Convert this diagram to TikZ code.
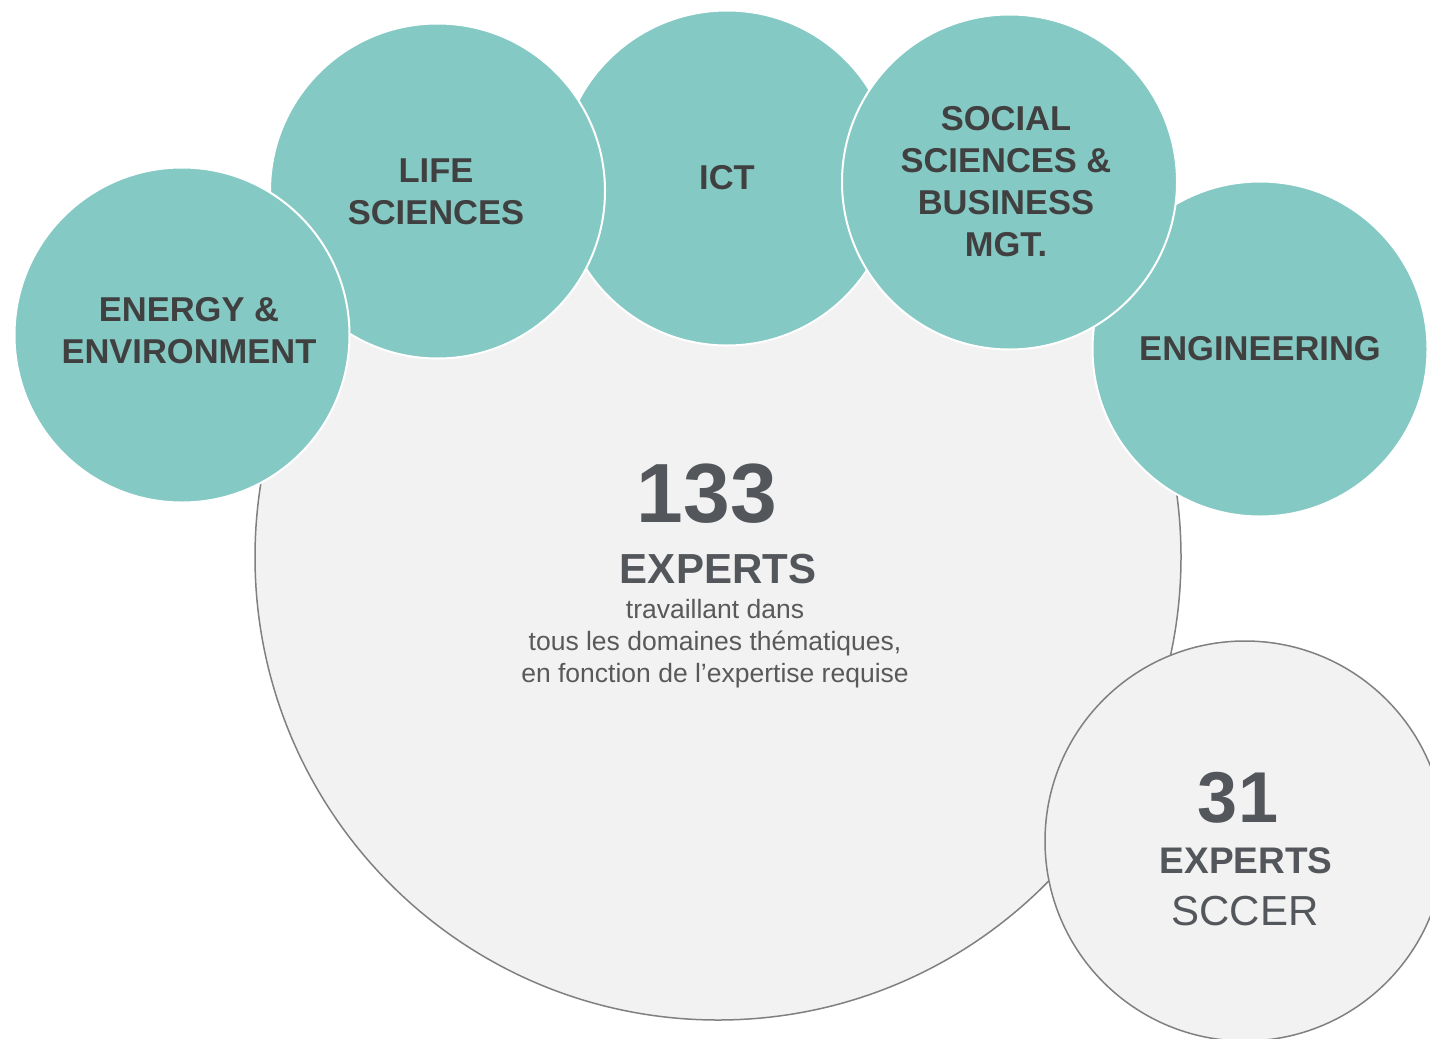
\documentclass[tikz,border=0pt]{standalone}
\usepackage{fontspec}
\setmainfont{Liberation Sans}
\definecolor{teal1}{HTML}{84C9C4}
\definecolor{lbl}{HTML}{404040}
\definecolor{num}{HTML}{53565A}
\definecolor{small}{HTML}{595959}
\definecolor{bgc}{HTML}{F2F2F2}
\definecolor{edge}{HTML}{808080}
\tikzset{
  domcirc/.style={circle, fill=teal1, draw=white, line width=2pt, inner sep=0pt,
    minimum size=335pt},
  domlbl/.style={align=center, text=lbl, font=\fontsize{34.5}{42}\selectfont\bfseries},
  poolcirc/.style={circle, fill=bgc, draw=edge, line width=1.5pt, inner sep=0pt},
  bignum/.style={anchor=base, text=num, font=\fontsize{84}{100}\selectfont\bfseries},
  expw/.style={anchor=base, text=num, font=\fontsize{42}{48}\selectfont\bfseries},
  smalltxt/.style={anchor=base, text=small, font=\fontsize{26.5}{30}\selectfont},
}
\begin{document}
\begin{tikzpicture}[x=1pt,y=-1pt]
\useasboundingbox (0,0) rectangle (1430,1039);
\node[poolcirc, minimum size=926pt] (big) at (718,557) {};
\node[poolcirc, minimum size=400pt] (sccer) at (1245,841) {};
\node[domcirc] (eng) at (1260,349) {};
\node[domlbl] (engl) at (1260,349) {ENGINEERING};
\node[domcirc] (ict) at (727,178) {};
\node[domlbl] (ictl) at (727,178) {ICT};
\node[domcirc] (soc) at (1009.5,182) {};
\node[domlbl] (socl) at (1006,182) {SOCIAL\\SCIENCES \&\\BUSINESS\\MGT.};
\node[domcirc] (life) at (437.5,191) {};
\node[domlbl] (lifel) at (436,192) {LIFE\\SCIENCES};
\node[domcirc] (ener) at (182,335) {};
\node[domlbl] (enerl) at (189,331) {ENERGY \&\\ENVIRONMENT};
\node[bignum] (n133) at (707,522) {133};
\node[expw] (e133) at (718,583) {EXPERTS};
\node[smalltxt] (t1) at (715,618) {travaillant dans};
\node[smalltxt] (t2) at (715,650) {tous les domaines thématiques,};
\node[smalltxt] (t3) at (715,682) {en fonction de l’expertise requise};
\node[anchor=base, text=num, font=\fontsize{72}{90}\selectfont\bfseries] (n31) at (1238,822) {31};
\node[anchor=base, text=num, font=\fontsize{37}{42}\selectfont\bfseries] (e31) at (1246,873) {EXPERTS};
\node[anchor=base, text=num, font=\fontsize{42}{48}\selectfont] (sc) at (1245,925) {SCCER};
\end{tikzpicture}
\end{document}
